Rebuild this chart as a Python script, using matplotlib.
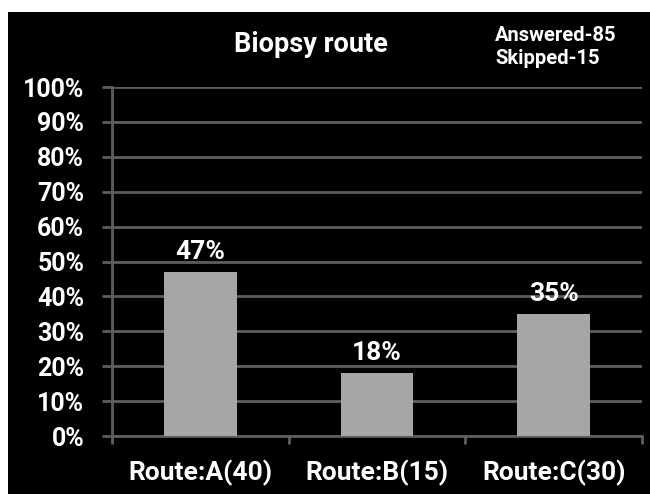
import matplotlib
matplotlib.use('Agg')
import matplotlib.pyplot as plt
import matplotlib.patches as patches
import numpy as np

# ─── Data ────────────────────────────────────────────────────────────────────
categories = ['Route:A(40)', 'Route:B(15)', 'Route:C(30)']
percents   = [47, 18, 35]
y_ticks    = list(range(0, 101, 10))

# ─── Style ───────────────────────────────────────────────────────────────────
BG    = '#000000'
BAR   = '#a6a6a6'
GRID  = '#5e5e5e'
TEXT  = '#ffffff'
FONT  = ['Roboto', 'DejaVu Sans']

plt.rcParams['font.family'] = FONT
plt.rcParams['font.weight'] = 'bold'

W, H, DPI = 6.5, 4.94, 100
fig = plt.figure(figsize=(W, H), dpi=DPI, facecolor='white')

# black panel behind everything (thin white border top / left as in the screenshot)
bg_ax = fig.add_axes([8 / 650, 0, 1 - 8 / 650, (494 - 12) / 494], zorder=-10)
bg_ax.set_facecolor(BG)
bg_ax.axis('off')
bg_ax.add_patch(patches.Rectangle((0, 0), 1, 1, transform=bg_ax.transAxes,
                                  facecolor=BG, edgecolor='none'))

ax = fig.add_axes([112 / 650, (494 - 436) / 494, 530 / 650, 349 / 494])
ax.set_facecolor(BG)

x = np.arange(len(categories))
bars = ax.bar(x, percents, width=0.41, color=BAR, zorder=3)

ax.set_xlim(-0.5, len(categories) - 0.5)
ax.set_ylim(0, 100)
ax.set_yticks(y_ticks)
ax.set_yticklabels([f'{v}%' for v in y_ticks])
ax.set_xticks(x)
ax.set_xticklabels(categories)
ax.set_xticks(np.arange(len(categories) + 1) - 0.5, minor=True)

ax.yaxis.grid(True, color=GRID, lw=2, zorder=1)
ax.set_axisbelow(True)

for s in ['top', 'right']:
    ax.spines[s].set_visible(False)
for s in ['left', 'bottom']:
    ax.spines[s].set_color(GRID)
    ax.spines[s].set_linewidth(2)

ax.tick_params(axis='y', colors=GRID, length=7, width=2, pad=13,
               labelcolor=TEXT, labelsize=18)
ax.tick_params(axis='x', which='major', length=0, pad=17,
               labelcolor=TEXT, labelsize=19)
ax.tick_params(axis='x', which='minor', colors=GRID, length=6, width=2)

for b, v in zip(bars, percents):
    ax.annotate(f'{v}%', (b.get_x() + b.get_width() / 2, v),
                xytext=(0, 6), textcoords='offset points',
                ha='center', va='bottom', color=TEXT, fontsize=19,
                fontweight='bold')

# ─── Title & annotation ──────────────────────────────────────────────────────
fig.text(311 / 650, 1 - 45 / 494, 'Biopsy route', ha='center', va='center',
         color=TEXT, fontsize=19.5, fontweight='bold')
fig.text(495 / 650, 1 - 47 / 494, 'Answered-85\nSkipped-15', ha='left',
         va='center', color=TEXT, fontsize=14.5, fontweight='bold',
         linespacing=1.25)

fig.savefig('out.png', dpi=DPI, facecolor='white')
